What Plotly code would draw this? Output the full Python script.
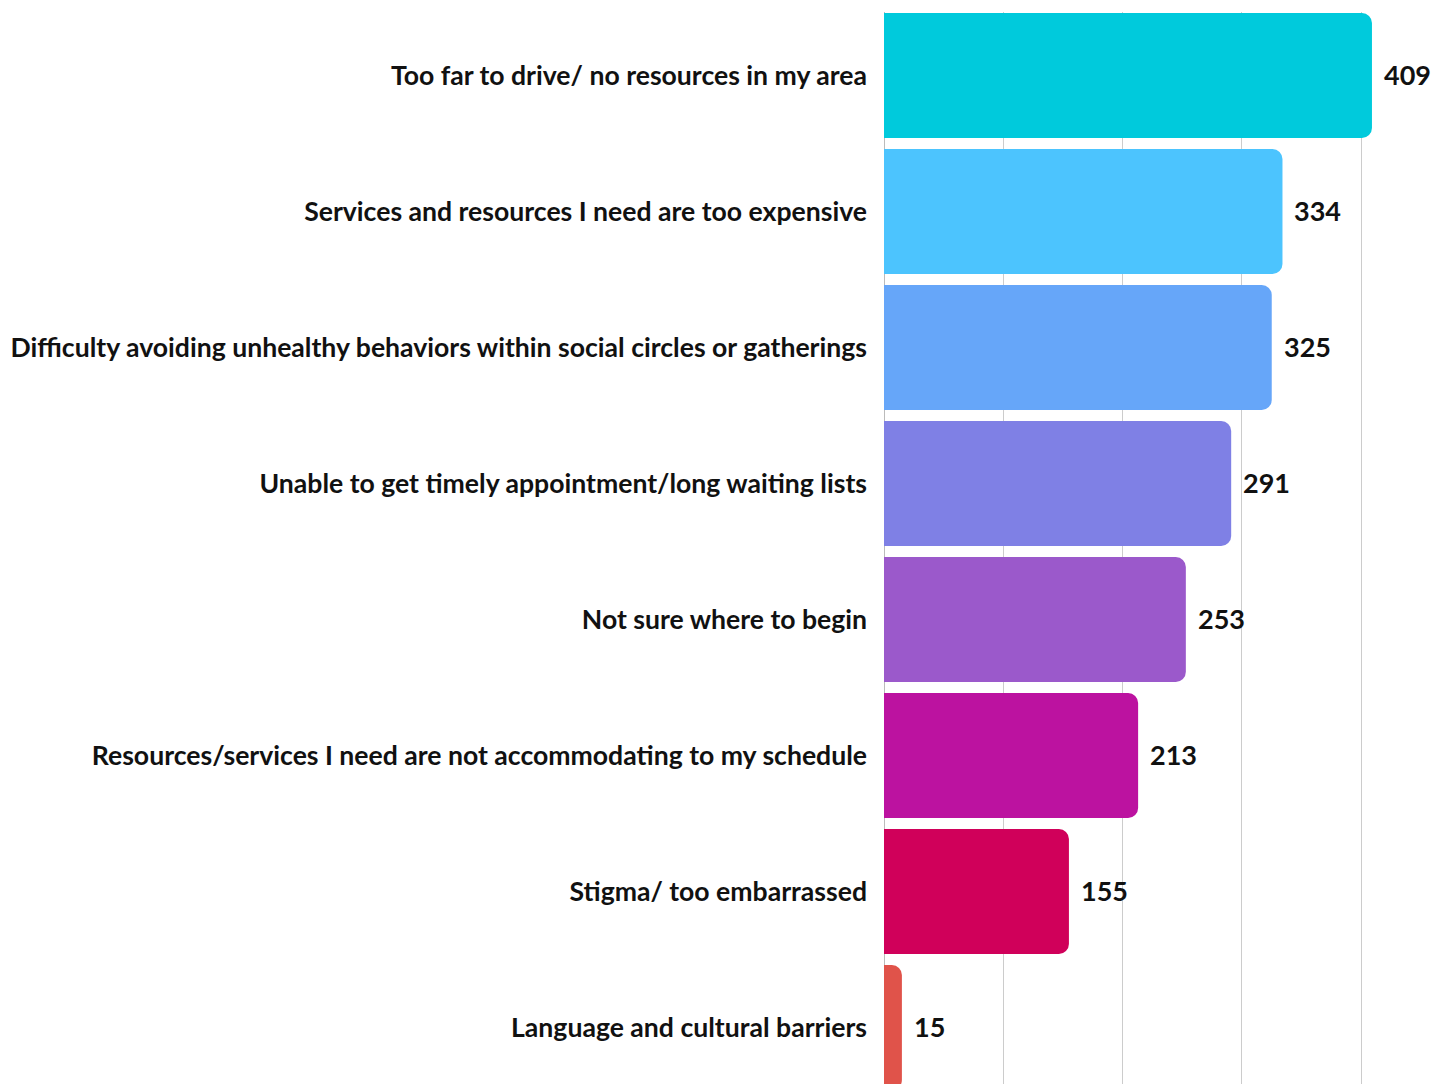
import plotly.graph_objects as go

categories = [
    "Too far to drive/ no resources in my area",
    "Services and resources I need are too expensive",
    "Difficulty avoiding unhealthy behaviors within social circles or gatherings",
    "Unable to get timely appointment/long waiting lists",
    "Not sure where to begin",
    "Resources/services I need are not accommodating to my schedule",
    "Stigma/ too embarrassed",
    "Language and cultural barriers",
]
values = [409, 334, 325, 291, 253, 213, 155, 15]
colors = ["#00CADC", "#4CC4FE", "#66A6F9", "#7F80E5", "#9B59CB", "#BC12A0", "#D0005A", "#E0534A"]

FONT = "Lato"

fig = go.Figure()
fig.add_trace(go.Bar(
    y=categories,
    x=values,
    orientation="h",
    marker=dict(color=colors, line=dict(width=0)),
    hoverinfo="skip",
))

for c, v in zip(categories, values):
    fig.add_annotation(
        x=v, y=c, text=str(v), showarrow=False,
        xanchor="left", xshift=10, yshift=1,
        font=dict(family=FONT, size=27, color="#111111", weight="bold"),
    )

fig.update_layout(
    width=1439, height=1076,
    margin=dict(l=876, r=0, t=4, b=0, pad=0),
    paper_bgcolor="white", plot_bgcolor="white",
    bargap=0.081,
    barcornerradius=10,
    showlegend=False,
    font=dict(family=FONT, size=26.6, color="#111111"),
)
fig.update_xaxes(
    range=[0, 471.9],
    showgrid=True, gridcolor="#CCCCCC", gridwidth=1,
    tickvals=[100, 200, 300, 400],
    showticklabels=False, zeroline=True, zerolinecolor="#BBBBBB", zerolinewidth=1,
    showline=False, fixedrange=True,
)
fig.update_yaxes(
    categoryorder="array", categoryarray=categories,
    range=[7.415, -0.467],
    showgrid=False, showline=False, zeroline=False,
    ticks="", ticklabelstandoff=16,
    tickfont=dict(family=FONT, size=26.6, color="#111111", weight="bold"),
)

fig.write_html("out.html")
